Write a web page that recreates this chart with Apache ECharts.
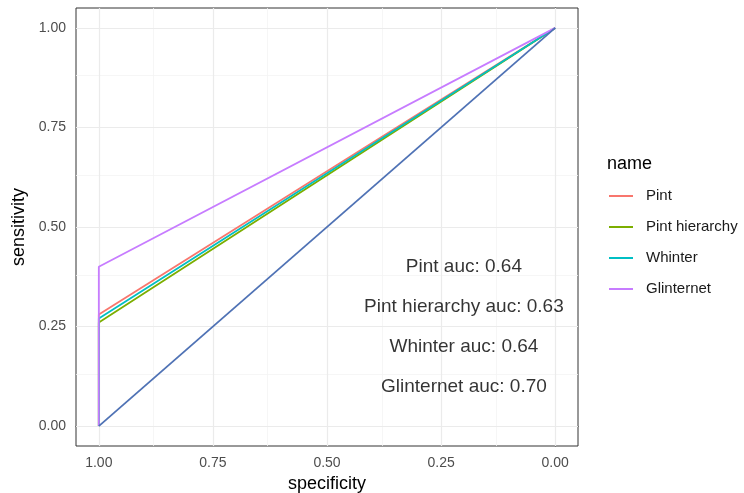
<!DOCTYPE html>
<html>
<head>
<meta charset="utf-8">
<script src="https://cdn.jsdelivr.net/npm/echarts@6/dist/echarts.min.js"></script>
<style>
  html, body { margin: 0; padding: 0; background: #fff; }
  #chart { width: 744px; height: 493px; }
</style>
</head>
<body>
<div id="chart"></div>
<script>
// ROC curves: [specificity, sensitivity]
var seriesNames = ['Pint', 'Pint hierarchy', 'Whinter', 'Glinternet'];
var seriesColors = ['#F8766D', '#7CAE00', '#00BFC4', '#C77CFF'];
var pintRoc = [[1, 0], [1, 0.28], [0, 1]];
var pintHierRoc = [[1, 0], [1, 0.26], [0, 1]];
var whinterRoc = [[1, 0], [1, 0.27], [0, 1]];
var glinternetRoc = [[1, 0], [1, 0.40], [0, 1]];
var chanceLine = [[1, 0], [0, 1]];

var aucLabels = ['Pint auc: 0.64', 'Pint hierarchy auc: 0.63', 'Whinter auc: 0.64', 'Glinternet auc: 0.70'];
var aucPos = [[0.2, 0.4], [0.2, 0.3], [0.2, 0.2], [0.2, 0.1]];

var majorTicks = [0, 0.25, 0.5, 0.75, 1];
var minorTicks = [0.125, 0.375, 0.625, 0.875];

var FONT = 'Liberation Sans, Arial, sans-serif';
var chart = echarts.init(document.getElementById('chart'));

function gridLines(vals, color, width) {
  var out = [];
  vals.forEach(function (v) {
    out.push({ xAxis: v, lineStyle: { color: color, width: width, type: 'solid' } });
    out.push({ yAxis: v, lineStyle: { color: color, width: width, type: 'solid' } });
  });
  return out;
}

var rocData = [pintRoc, pintHierRoc, whinterRoc, glinternetRoc];
var lineSeries = seriesNames.map(function (n, i) {
  return {
    name: n,
    type: 'line',
    data: rocData[i],
    symbol: 'none',
    lineStyle: { color: seriesColors[i], width: 1.8 },
    itemStyle: { color: seriesColors[i] },
    z: 3
  };
});

var axisLine = { show: true, lineStyle: { color: '#333333', width: 1 } };
var axisTick = { show: true, length: 4, customValues: majorTicks, lineStyle: { color: '#333333', width: 1 } };

chart.setOption({
  animation: false,
  textStyle: { fontFamily: FONT },
  grid: {
    left: 76, right: 166, top: 8, bottom: 47,
    outerBoundsMode: 'none', containLabel: false,
    show: true, borderColor: '#333333', borderWidth: 1, backgroundColor: '#fff'
  },
  graphic: [{
    type: 'text', left: 607, top: 155,
    style: { text: 'name', font: '18px ' + FONT, fill: '#000' }
  }],
  legend: {
    data: seriesNames,
    orient: 'vertical',
    left: 604, top: 183,
    icon: 'rect',
    itemWidth: 24, itemHeight: 2,
    itemGap: 15,
    textStyle: { fontSize: 15, color: '#1a1a1a', lineHeight: 16, padding: [0, 0, 0, 8], fontFamily: FONT }
  },
  xAxis: {
    type: 'value', inverse: true, min: -0.05, max: 1.05,
    name: 'specificity', nameLocation: 'middle', nameGap: 27,
    nameTextStyle: { fontSize: 18, color: '#000' },
    axisLine: axisLine, axisTick: axisTick, splitLine: { show: false },
    axisLabel: {
      customValues: majorTicks, fontSize: 14, color: '#4D4D4D', margin: 10,
      formatter: function (v) { return v.toFixed(2); }
    }
  },
  yAxis: {
    type: 'value', min: -0.05, max: 1.05,
    name: 'sensitivity', nameLocation: 'middle', nameGap: 42, nameRotate: 90,
    nameTextStyle: { fontSize: 18, color: '#000' },
    axisLine: axisLine, axisTick: axisTick, splitLine: { show: false },
    axisLabel: {
      customValues: majorTicks, fontSize: 14, color: '#4D4D4D', margin: 10,
      formatter: function (v) { return v.toFixed(2); }
    }
  },
  series: [
    {
      type: 'line', data: [], silent: true, z: 1,
      markLine: {
        silent: true, symbol: 'none', label: { show: false }, animation: false, z: 1,
        data: gridLines(minorTicks, '#F4F4F4', 0.8).concat(gridLines(majorTicks, '#EBEBEB', 1.2))
      }
    }
  ].concat(lineSeries).concat([
    {
      name: 'chance', type: 'line', data: chanceLine, symbol: 'none',
      lineStyle: { color: '#4F72B5', width: 1.8 }, z: 4
    },
    {
      type: 'scatter', symbolSize: 0, z: 5,
      data: aucPos.map(function (p, i) { return { value: p, name: aucLabels[i] }; }),
      label: {
        show: true, position: 'inside', fontSize: 19, color: '#000', fontFamily: FONT,
        formatter: function (p) { return p.name; }
      }
    }
  ])
});
</script>
</body>
</html>
